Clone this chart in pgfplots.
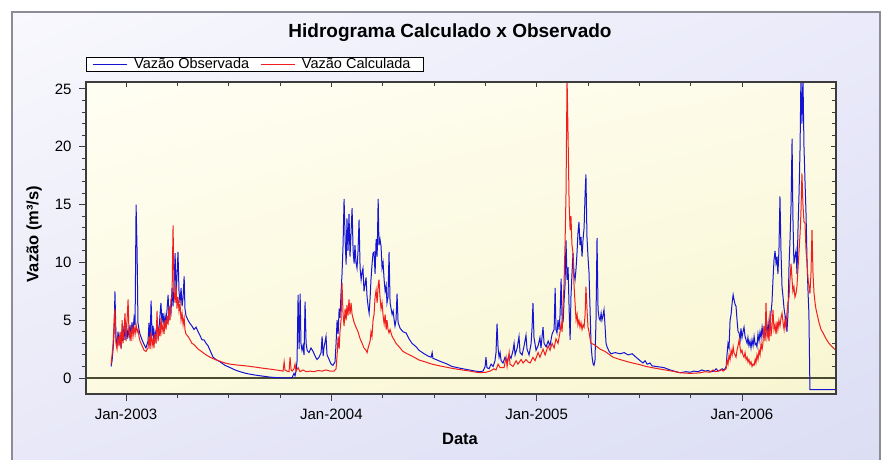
\documentclass[border=0pt]{standalone}
\usepackage{pgfplots}
\pgfplotsset{compat=1.18}
\usepackage{pgfplotstable}
\usepackage{fontspec}
\setmainfont{Liberation Sans}
\usetikzlibrary{shadings}
\definecolor{obs}{RGB}{20,20,210}
\definecolor{calc}{RGB}{240,30,30}
\definecolor{frame}{RGB}{60,60,60}
\definecolor{zeroline}{RGB}{75,75,50}
\definecolor{bgUL}{RGB}{248,248,253}
\definecolor{bgUR}{RGB}{234,234,250}
\definecolor{bgLL}{RGB}{232,232,248}
\definecolor{bgLR}{RGB}{220,222,244}
\definecolor{paUL}{RGB}{255,254,243}
\definecolor{paUR}{RGB}{253,251,232}
\definecolor{paLL}{RGB}{252,250,224}
\definecolor{paLR}{RGB}{248,246,208}

\pgfplotstableread{
x y
2002.927 1.0
2002.932 1.5
2002.937 2.5
2002.942 4.0
2002.946 7.5
2002.951 3.5
2002.956 2.8
2002.961 4.0
2002.966 3.0
2002.971 3.6
2002.976 2.6
2002.981 4.2
2002.985 3.2
2002.990 4.5
2002.995 3.3
2003.000 4.8
2003.005 3.4
2003.010 4.2
2003.015 3.6
2003.019 4.6
2003.024 3.8
2003.029 4.8
2003.034 4.0
2003.039 5.2
2003.044 4.6
2003.049 15.0
2003.054 10.8
2003.058 4.8
2003.063 4.2
2003.068 3.8
2003.078 3.3
2003.088 2.9
2003.097 2.6
2003.107 3.2
2003.112 4.8
2003.117 3.0
2003.122 6.7
2003.127 3.6
2003.132 4.5
2003.136 3.0
2003.141 4.0
2003.146 3.4
2003.151 5.0
2003.156 3.8
2003.161 4.4
2003.170 6.5
2003.175 4.8
2003.180 5.6
2003.185 4.6
2003.190 5.4
2003.195 4.8
2003.205 7.2
2003.209 5.0
2003.214 6.0
2003.219 5.6
2003.224 7.8
2003.229 6.2
2003.234 8.0
2003.239 10.8
2003.244 7.0
2003.248 8.8
2003.253 10.9
2003.258 7.5
2003.263 6.5
2003.268 7.8
2003.273 6.2
2003.278 7.0
2003.283 8.8
2003.287 6.0
2003.292 5.4
2003.302 5.0
2003.312 4.7
2003.321 4.5
2003.331 4.2
2003.341 4.4
2003.351 4.0
2003.360 3.7
2003.370 3.3
2003.380 3.3
2003.390 3.0
2003.399 2.8
2003.409 2.4
2003.424 1.8
2003.438 1.6
2003.458 1.4
2003.482 1.1
2003.507 0.9
2003.531 0.7
2003.555 0.55
2003.585 0.4
2003.614 0.3
2003.643 0.22
2003.672 0.15
2003.701 0.08
2003.731 0.04
2003.760 0.02
2003.789 0.0
2003.809 0.05
2003.818 0.4
2003.823 0.2
2003.828 0.6
2003.833 1.5
2003.838 7.2
2003.843 2.5
2003.848 7.3
2003.852 3.0
2003.857 2.4
2003.862 2.8
2003.867 2.0
2003.872 6.6
2003.877 3.0
2003.882 2.4
2003.891 2.2
2003.901 2.6
2003.911 2.3
2003.921 1.9
2003.930 1.6
2003.940 1.8
2003.950 2.2
2003.955 3.6
2003.960 1.9
2003.964 2.6
2003.974 3.6
2003.979 2.0
2003.989 1.6
2003.999 1.2
2004.008 1.1
2004.018 1.4
2004.023 3.0
2004.028 5.0
2004.033 3.8
2004.038 6.0
2004.042 5.2
2004.047 7.3
2004.052 9.0
2004.057 11.5
2004.062 15.5
2004.067 12.0
2004.072 9.8
2004.076 13.8
2004.081 11.0
2004.086 14.2
2004.091 10.5
2004.096 12.6
2004.101 14.7
2004.106 11.0
2004.111 9.9
2004.115 11.5
2004.120 10.0
2004.125 9.5
2004.130 11.0
2004.135 13.7
2004.140 9.5
2004.145 8.5
2004.150 9.2
2004.154 9.5
2004.159 7.5
2004.169 8.7
2004.174 7.0
2004.179 6.2
2004.184 5.6
2004.189 7.0
2004.193 8.5
2004.198 9.8
2004.203 10.8
2004.208 10.9
2004.213 9.0
2004.218 12.0
2004.223 10.5
2004.228 15.5
2004.232 11.5
2004.237 12.0
2004.242 11.4
2004.247 9.5
2004.252 10.0
2004.257 8.5
2004.262 7.5
2004.267 8.0
2004.271 6.5
2004.276 7.0
2004.281 10.9
2004.286 6.5
2004.291 6.0
2004.296 5.5
2004.301 5.8
2004.306 5.0
2004.310 4.5
2004.315 5.0
2004.320 7.3
2004.325 4.8
2004.335 4.3
2004.349 4.0
2004.364 3.9
2004.378 3.4
2004.393 3.0
2004.413 2.7
2004.427 2.4
2004.452 2.1
2004.471 1.9
2004.486 1.8
2004.491 2.2
2004.495 1.7
2004.510 1.6
2004.529 1.45
2004.559 1.25
2004.588 1.0
2004.627 0.85
2004.656 0.75
2004.685 0.65
2004.720 0.55
2004.739 0.6
2004.749 1.0
2004.753 1.8
2004.758 0.9
2004.768 0.8
2004.778 1.2
2004.788 1.0
2004.797 1.5
2004.802 2.2
2004.807 4.7
2004.812 2.6
2004.817 1.8
2004.822 2.2
2004.827 1.5
2004.836 1.3
2004.846 1.8
2004.856 1.4
2004.866 2.0
2004.875 1.7
2004.885 2.4
2004.890 3.0
2004.895 2.0
2004.905 2.6
2004.914 3.6
2004.919 2.2
2004.929 2.0
2004.939 2.8
2004.948 3.7
2004.953 2.5
2004.963 2.0
2004.973 3.0
2004.978 4.5
2004.982 6.5
2004.987 3.5
2004.997 2.4
2005.007 2.8
2005.016 3.5
2005.021 2.6
2005.031 4.4
2005.036 3.0
2005.046 2.7
2005.056 3.2
2005.065 2.8
2005.075 3.8
2005.085 4.2
2005.090 7.8
2005.094 4.2
2005.099 3.9
2005.104 5.0
2005.109 4.2
2005.114 5.5
2005.119 8.6
2005.124 5.0
2005.129 4.9
2005.133 6.5
2005.138 8.0
2005.143 11.9
2005.148 8.5
2005.153 9.6
2005.158 6.0
2005.163 3.3
2005.167 7.0
2005.172 9.0
2005.177 10.8
2005.182 9.0
2005.187 8.5
2005.192 9.5
2005.197 11.0
2005.201 12.5
2005.206 13.5
2005.211 11.5
2005.216 12.2
2005.221 10.5
2005.226 12.0
2005.231 13.0
2005.236 16.0
2005.240 17.6
2005.245 12.2
2005.250 10.5
2005.255 9.1
2005.260 6.0
2005.265 2.8
2005.270 1.8
2005.275 1.2
2005.279 1.1
2005.284 1.5
2005.289 5.0
2005.294 12.1
2005.299 5.9
2005.304 5.2
2005.309 5.0
2005.314 5.6
2005.318 5.0
2005.323 5.4
2005.328 5.9
2005.333 4.5
2005.338 3.0
2005.343 2.7
2005.353 2.3
2005.362 2.1
2005.382 2.2
2005.406 2.1
2005.426 2.2
2005.445 2.0
2005.465 2.1
2005.484 1.8
2005.504 1.5
2005.518 1.3
2005.528 1.5
2005.538 1.2
2005.552 1.3
2005.562 1.05
2005.582 1.0
2005.601 0.95
2005.620 0.9
2005.650 0.7
2005.679 0.55
2005.698 0.46
2005.728 0.55
2005.747 0.5
2005.766 0.6
2005.786 0.55
2005.805 0.7
2005.820 0.6
2005.835 0.65
2005.849 0.55
2005.864 0.6
2005.874 0.8
2005.884 0.6
2005.893 0.65
2005.903 0.8
2005.913 0.7
2005.923 0.98
2005.927 2.0
2005.932 3.0
2005.937 2.6
2005.942 5.0
2005.947 5.5
2005.952 6.5
2005.957 7.2
2005.961 6.8
2005.966 6.4
2005.971 6.2
2005.976 5.0
2005.981 4.0
2005.986 3.9
2005.991 3.3
2005.995 4.3
2006.000 3.5
2006.005 4.0
2006.010 4.4
2006.015 3.6
2006.020 3.3
2006.025 3.0
2006.029 3.5
2006.034 2.8
2006.039 3.2
2006.044 2.6
2006.049 3.3
2006.054 2.8
2006.059 3.6
2006.064 2.9
2006.068 3.0
2006.073 2.7
2006.078 3.8
2006.083 3.2
2006.088 4.0
2006.093 3.5
2006.098 4.4
2006.102 3.8
2006.107 4.2
2006.112 3.6
2006.117 4.0
2006.122 4.6
2006.127 3.8
2006.132 5.0
2006.137 4.5
2006.141 5.6
2006.146 6.5
2006.151 8.5
2006.156 10.2
2006.161 11.0
2006.166 9.9
2006.171 10.5
2006.175 9.0
2006.180 11.0
2006.185 15.7
2006.190 11.0
2006.195 7.9
2006.200 7.0
2006.205 6.0
2006.209 5.5
2006.214 5.0
2006.219 4.0
2006.224 5.5
2006.229 9.6
2006.234 12.0
2006.239 15.0
2006.244 20.7
2006.248 14.0
2006.253 9.9
2006.258 10.5
2006.263 11.0
2006.268 9.0
2006.273 13.0
2006.278 16.0
2006.283 20.0
2006.287 26.0
2006.292 22.0
2006.297 26.0
2006.302 20.0
2006.307 17.0
2006.312 14.2
2006.317 10.0
2006.322 7.3
2006.326 5.6
2006.331 -1.0
2006.458 -1.0
}\observada

\pgfplotstableread{
x y
2002.927 1.2
2002.932 2.0
2002.937 3.0
2002.942 5.0
2002.946 6.0
2002.951 3.0
2002.956 2.5
2002.961 3.6
2002.966 2.8
2002.971 4.0
2002.976 2.5
2002.981 5.0
2002.985 3.0
2002.990 4.0
2002.995 5.6
2003.000 3.2
2003.005 5.0
2003.010 6.8
2003.015 3.5
2003.019 4.0
2003.024 3.2
2003.029 4.5
2003.034 3.6
2003.039 4.4
2003.044 3.8
2003.049 4.6
2003.054 4.0
2003.058 4.2
2003.063 3.6
2003.068 3.2
2003.078 2.8
2003.088 2.4
2003.097 2.3
2003.107 2.6
2003.112 3.6
2003.117 2.5
2003.122 4.0
2003.127 2.8
2003.132 3.4
2003.136 2.6
2003.141 3.8
2003.146 3.0
2003.151 5.8
2003.156 3.2
2003.161 4.2
2003.166 3.6
2003.170 5.2
2003.175 4.0
2003.180 4.6
2003.185 3.8
2003.190 5.0
2003.195 4.2
2003.200 5.4
2003.205 4.6
2003.209 6.2
2003.214 5.0
2003.219 6.8
2003.224 7.0
2003.229 13.2
2003.234 7.5
2003.239 6.5
2003.244 8.0
2003.248 6.0
2003.253 7.0
2003.258 5.8
2003.263 6.4
2003.268 5.0
2003.273 5.6
2003.278 4.6
2003.283 5.2
2003.287 4.2
2003.292 3.8
2003.302 3.6
2003.312 3.3
2003.321 3.0
2003.331 2.9
2003.341 2.7
2003.351 2.5
2003.360 2.4
2003.375 2.2
2003.390 2.0
2003.409 1.8
2003.434 1.6
2003.458 1.45
2003.482 1.3
2003.507 1.2
2003.555 1.1
2003.585 1.05
2003.628 0.95
2003.667 0.85
2003.711 0.75
2003.750 0.65
2003.765 0.6
2003.770 1.4
2003.774 0.7
2003.784 0.6
2003.794 0.55
2003.799 1.8
2003.804 0.7
2003.809 0.6
2003.818 0.8
2003.823 1.2
2003.828 0.6
2003.838 0.9
2003.848 0.55
2003.862 0.7
2003.877 0.55
2003.896 0.6
2003.916 0.55
2003.935 0.65
2003.955 0.6
2003.974 0.7
2003.994 0.6
2004.013 0.6
2004.023 0.8
2004.028 2.0
2004.033 3.6
2004.038 2.5
2004.042 4.0
2004.047 5.0
2004.052 8.2
2004.057 5.5
2004.062 4.5
2004.067 6.0
2004.072 5.0
2004.076 6.3
2004.081 5.4
2004.086 6.8
2004.091 5.5
2004.096 6.5
2004.101 5.5
2004.111 4.8
2004.120 4.4
2004.130 4.0
2004.140 3.4
2004.150 3.0
2004.159 2.6
2004.169 2.4
2004.174 2.2
2004.179 2.6
2004.189 3.2
2004.193 4.0
2004.198 3.6
2004.203 5.0
2004.208 5.5
2004.213 7.0
2004.218 7.6
2004.223 6.5
2004.228 8.0
2004.232 8.5
2004.237 7.0
2004.242 6.0
2004.247 6.5
2004.252 5.4
2004.257 4.7
2004.262 5.5
2004.267 4.2
2004.271 5.0
2004.276 4.2
2004.281 3.9
2004.286 4.2
2004.296 3.6
2004.306 3.3
2004.315 3.0
2004.330 2.7
2004.349 2.3
2004.369 2.1
2004.393 1.9
2004.427 1.56
2004.456 1.4
2004.491 1.2
2004.529 1.05
2004.588 0.84
2004.637 0.7
2004.676 0.6
2004.720 0.46
2004.753 0.5
2004.773 0.6
2004.792 0.8
2004.802 0.7
2004.812 1.2
2004.822 0.9
2004.841 0.9
2004.851 1.8
2004.856 1.0
2004.866 2.2
2004.870 1.2
2004.885 1.0
2004.900 1.5
2004.909 1.2
2004.924 1.6
2004.934 1.3
2004.948 1.6
2004.958 1.4
2004.968 1.3
2004.982 1.8
2004.992 1.5
2005.007 2.2
2005.016 1.8
2005.031 2.5
2005.041 2.0
2005.056 2.8
2005.065 2.4
2005.075 3.0
2005.085 2.6
2005.094 3.4
2005.104 3.0
2005.114 4.0
2005.119 4.7
2005.124 4.0
2005.129 6.5
2005.133 8.0
2005.138 11.4
2005.143 16.0
2005.148 26.0
2005.153 20.9
2005.158 15.1
2005.163 12.8
2005.167 14.0
2005.172 11.5
2005.177 10.8
2005.182 8.0
2005.187 6.5
2005.192 5.0
2005.197 5.5
2005.201 4.6
2005.206 5.0
2005.211 4.4
2005.216 4.8
2005.221 4.2
2005.226 4.6
2005.231 4.4
2005.236 5.5
2005.240 7.9
2005.245 6.0
2005.250 4.4
2005.255 4.0
2005.260 3.4
2005.265 3.0
2005.279 2.9
2005.294 2.7
2005.309 2.5
2005.333 2.3
2005.357 2.0
2005.372 1.8
2005.406 1.6
2005.455 1.35
2005.504 1.15
2005.533 1.0
2005.577 0.85
2005.625 0.7
2005.660 0.6
2005.698 0.46
2005.747 0.4
2005.796 0.45
2005.820 0.55
2005.844 0.5
2005.859 0.7
2005.869 0.55
2005.884 0.6
2005.898 0.75
2005.908 0.6
2005.923 0.8
2005.927 1.56
2005.932 1.2
2005.937 2.0
2005.942 1.6
2005.947 2.4
2005.952 2.0
2005.957 2.7
2005.961 2.2
2005.966 2.0
2005.971 1.8
2005.976 2.4
2005.981 2.8
2005.986 3.3
2005.991 2.6
2005.995 2.2
2006.000 2.4
2006.005 2.0
2006.010 1.8
2006.015 2.2
2006.020 1.6
2006.025 1.8
2006.029 1.4
2006.034 1.6
2006.039 1.2
2006.044 1.4
2006.049 1.0
2006.054 1.2
2006.059 1.1
2006.064 1.6
2006.068 1.3
2006.073 2.0
2006.078 1.6
2006.083 2.4
2006.088 2.0
2006.093 3.0
2006.098 2.5
2006.102 3.0
2006.107 4.5
2006.112 3.2
2006.117 6.5
2006.122 3.5
2006.127 4.0
2006.132 3.2
2006.137 5.8
2006.141 3.6
2006.146 4.4
2006.151 5.9
2006.156 4.2
2006.161 4.6
2006.166 3.8
2006.171 4.9
2006.175 4.2
2006.180 5.0
2006.185 4.5
2006.190 5.2
2006.195 5.6
2006.200 4.8
2006.205 4.2
2006.209 5.0
2006.214 4.4
2006.219 5.6
2006.224 6.5
2006.229 7.0
2006.234 8.5
2006.239 9.9
2006.244 8.5
2006.248 7.5
2006.253 7.9
2006.258 7.0
2006.263 7.3
2006.268 8.0
2006.273 9.5
2006.278 11.0
2006.283 12.5
2006.287 14.2
2006.292 17.7
2006.297 15.0
2006.302 13.5
2006.307 13.4
2006.312 11.0
2006.317 9.9
2006.322 8.5
2006.326 8.0
2006.331 7.3
2006.336 9.0
2006.341 12.8
2006.346 9.0
2006.351 7.3
2006.356 6.5
2006.360 6.0
2006.365 5.6
2006.375 4.8
2006.385 4.2
2006.395 3.9
2006.409 3.4
2006.424 3.0
2006.439 2.7
2006.458 2.4
}\calculada

\pgfplotsset{
  base/.style={
    at={(86pt,65pt)}, anchor=south west,
    scale only axis, width=750pt, height=312pt,
    xmin=2002.805, xmax=2006.458, ymin=-1.38, ymax=25.6,
    axis line style={draw=frame, line width=1.2pt},
    xtick={2003,2004,2005,2006}, minor x tick num=3,
    ytick={0,5,10,15,20,25}, minor y tick num=4,
    major tick length=7pt, minor tick length=4pt,
    every tick/.style={draw=frame, line width=0.9pt},
  }
}

\begin{document}
\begin{tikzpicture}
\useasboundingbox (0pt,0pt) rectangle (883pt,459pt);
\fill[white] (0pt,0pt) rectangle (883pt,459pt);
\shade[upper left=bgUL, upper right=bgUR, lower left=bgLL, lower right=bgLR] (12pt,0pt) rectangle (880pt,447pt);
\draw[line width=1.5pt, draw={rgb,255:red,140;green,140;blue,150}] (12pt,-2pt) -- (12pt,447pt) -- (880pt,447pt) -- (880pt,-2pt);

\begin{axis}[base,
  axis background/.style={shade, upper left=paUL, upper right=paUR, lower left=paLL, lower right=paLR},
  xtick pos=left, ytick pos=left, tick align=outside,
  xticklabels={Jan-2003,Jan-2004,Jan-2005,Jan-2006},
  /pgf/number format/assume math mode=true,
  ticklabel style={font=\fontsize{15}{15}\selectfont},
  yticklabel style={xshift=-4pt},
  xticklabel style={yshift=-4pt},
  extra y ticks={0}, extra y tick labels={},
  extra y tick style={grid=major, major grid style={draw=zeroline, line width=1.2pt}, tick style={draw=none}},
  legend columns=2,
  legend style={at={(0,1)}, anchor=south west, yshift=10pt,
    draw=black, line width=0.8pt, fill=white,
    inner xsep=6pt, inner ysep=0pt,
    font=\fontsize{14.5}{14.5}\selectfont,
    nodes={inner ysep=1.2pt, inner xsep=7pt},
    /tikz/every even column/.append style={column sep=4pt}},
  legend image code/.code={\draw[#1, line width=0.8pt] (0pt,0pt) -- (34pt,0pt);},
]
\addplot[obs, line width=1pt] table[x=x, y=y] {\observada};
\addlegendentry{Vazão Observada}
\addplot[calc, line width=1pt] table[x=x, y=y] {\calculada};
\addlegendentry{Vazão Calculada\hspace{12pt}}
\end{axis}

\begin{axis}[base,
  xtick pos=right, ytick pos=right, tick align=inside,
  xticklabels={}, yticklabels={},
  major tick length=5pt, minor tick length=4pt,
]
\end{axis}

\node[font=\bfseries\fontsize{19}{19}\selectfont] at (450pt,426pt) {Hidrograma Calculado x Observado};
\node[font=\bfseries\fontsize{16.5}{16.5}\selectfont] at (460pt,20pt) {Data};
\node[font=\bfseries\fontsize{16.5}{16.5}\selectfont, rotate=90] at (34pt,225pt) {Vazão (m³/s)};
\end{tikzpicture}
\end{document}
